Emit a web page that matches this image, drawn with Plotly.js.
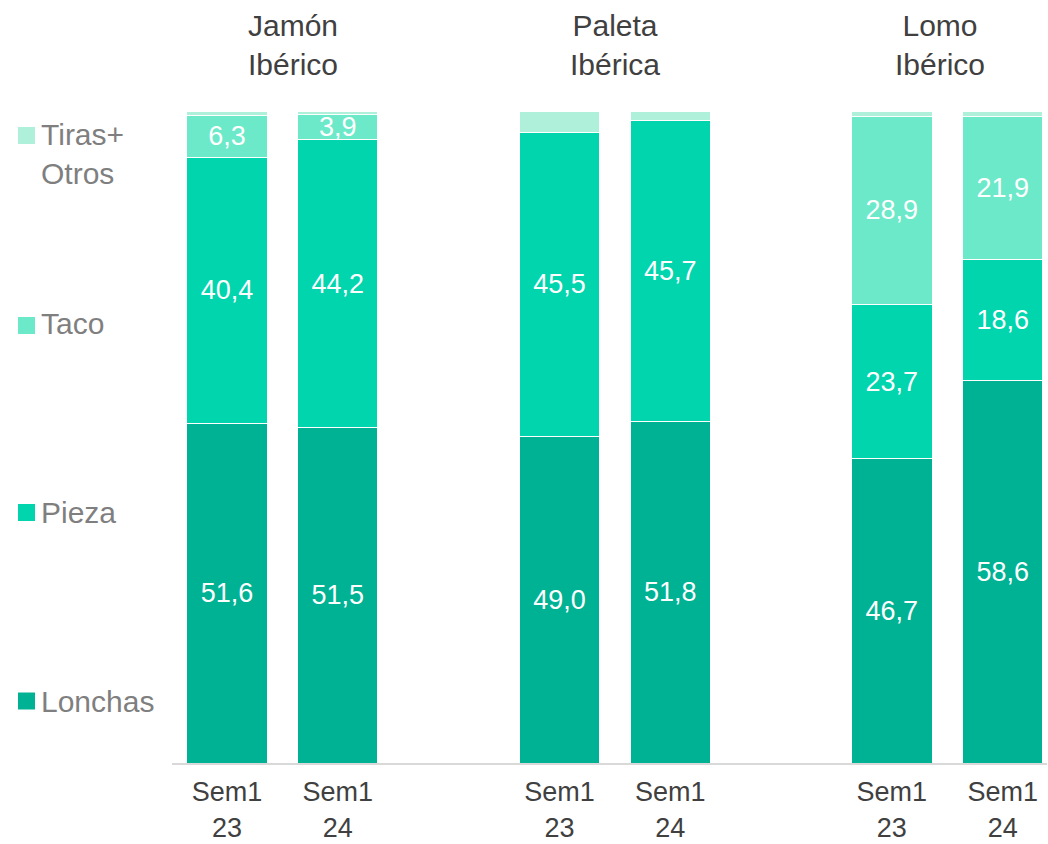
<!DOCTYPE html>
<html>
<head>
<meta charset="utf-8">
<script src="https://cdn.plot.ly/plotly-3.0.1.min.js"></script>
<style>html,body{margin:0;padding:0;background:#fff;}#chart{width:1048px;height:844px;}</style>
</head>
<body>
<div id="chart"></div>
<script>
// ---- data ----
const groups = ['Jamón<br>Ibérico', 'Paleta<br>Ibérica', 'Lomo<br>Ibérico'];
const periods = ['Sem1<br>23', 'Sem1<br>24'];
const seriesNames = ['Lonchas', 'Pieza', 'Taco', 'Tiras+<br>Otros'];
const lonchas = [51.6, 51.5, 49.0, 51.8, 46.7, 58.6];
const pieza   = [40.4, 44.2, 45.5, 45.7, 23.7, 18.6];
const taco    = [6.3, 3.9, 0, 0, 28.9, 21.9];
const tiras   = [0.7, 0.5, 3.2, 1.5, 0.8, 0.9];

// ---- style ----
const colors = ['#00B294', '#00D5AE', '#6BE9C9', '#AEF0DA'];
const FONT = 'Liberation Sans, Arial, sans-serif';

const xs = [], ticktext = [];
groups.forEach((g, gi) => periods.forEach((p, pi) => { xs.push(gi * 3 + pi); ticktext.push(p); }));

const fmt = v => v.toFixed(1).replace('.', ',');
const allSeries = [lonchas, pieza, taco, tiras];
const showLabel = [true, true, true, false];

const traces = allSeries.map((vals, si) => ({
  type: 'bar',
  name: seriesNames[si],
  x: xs,
  y: vals,
  width: 0.725,
  marker: {color: colors[si], line: {color: '#ffffff', width: 1}},
  text: vals.map(v => (showLabel[si] && v > 0) ? fmt(v) : ''),
  textposition: 'inside',
  insidetextanchor: 'middle',
  textangle: 0,
  constraintext: 'none',
  textfont: {color: '#ffffff', size: 27, family: FONT},
  hoverinfo: 'skip',
  showlegend: false
}));

// plot area geometry (pixels) for legend placement
const L = 172, T = 111, W = 875, H = 652;
const py = p => (T + H - p) / H;
const px = p => (p - L) / W;

const annotations = [];
const titleX = [0.596, 3.5, 6.43];
groups.forEach((g, gi) => annotations.push({
  text: g, x: titleX[gi], xref: 'x', y: py(45), yref: 'paper',
  xanchor: 'center', yanchor: 'middle', showarrow: false, align: 'center',
  font: {size: 30, color: '#404040', family: FONT}
}));

const legendCenters = [701, 512.5, 325.5, 135.5];
const legendTextCenters = [701, 512.5, 323.5, 153.5];
const shapes = [];
seriesNames.forEach((n, si) => {
  shapes.push({
    type: 'rect', xref: 'paper', yref: 'paper',
    x0: px(18), x1: px(35),
    y0: py(legendCenters[si] + 8.5), y1: py(legendCenters[si] - 8.5),
    fillcolor: colors[si], line: {width: 0}
  });
  annotations.push({
    text: n, x: px(39), xref: 'paper', y: py(legendTextCenters[si]), yref: 'paper',
    xanchor: 'left', yanchor: 'middle', align: 'left', showarrow: false,
    font: {size: 30, color: '#7F7F7F', family: FONT}
  });
});

const layout = {
  width: 1048, height: 844,
  margin: {l: L, r: 1048 - L - W, t: T, b: 844 - T - H, pad: 0},
  paper_bgcolor: '#ffffff', plot_bgcolor: '#ffffff',
  barmode: 'stack', barnorm: 'percent',
  showlegend: false,
  font: {family: FONT},
  xaxis: {
    range: [-0.496, 7.40], tickvals: xs, ticktext: ticktext,
    showline: true, linecolor: '#D9D9D9', linewidth: 2,
    showgrid: false, zeroline: false, ticks: '',
    ticklabelstandoff: 4,
    tickfont: {size: 27, color: '#404040', family: FONT},
    fixedrange: true
  },
  yaxis: {
    range: [0, 100], showgrid: false, zeroline: false, showline: false,
    showticklabels: false, ticks: '', fixedrange: true
  },
  shapes: shapes,
  annotations: annotations
};

Plotly.newPlot('chart', traces, layout, {displayModeBar: false, staticPlot: true});
</script>
</body>
</html>
